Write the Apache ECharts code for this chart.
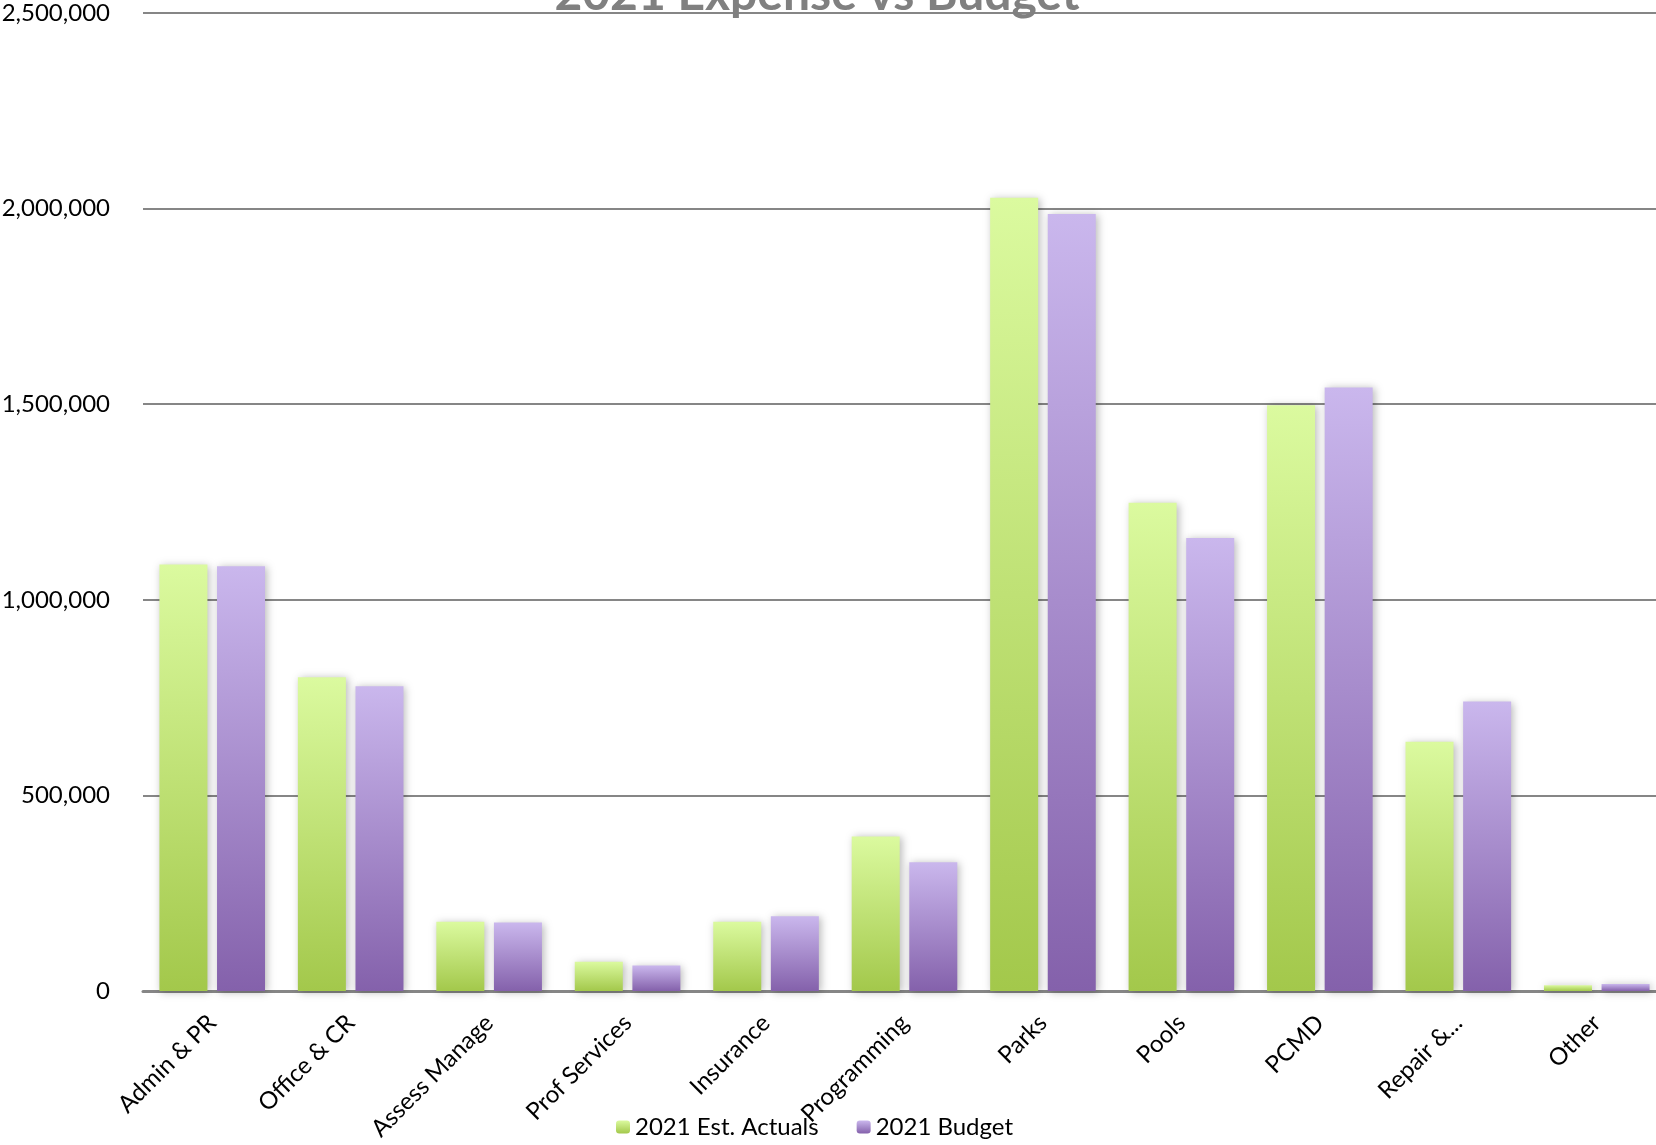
<!DOCTYPE html>
<html>
<head>
<meta charset="utf-8">
<title>2021 Expense vs Budget</title>
<script src="https://cdn.jsdelivr.net/npm/echarts@6/dist/echarts.min.js"></script>
<style>
  html, body { margin: 0; padding: 0; background: #ffffff; }
  #chart { width: 1656px; height: 1145px; }
</style>
</head>
<body>
<div id="chart"></div>
<script>
// Expense categories along the x axis
const categories = ['Admin & PR', 'Office & CR', 'Assess Manage', 'Prof Services', 'Insurance',
  'Programming', 'Parks', 'Pools', 'PCMD', 'Repair &...', 'Other'];

// 2021 estimated actual spending per category
const estActuals = [1090000, 802000, 177000, 75000, 177000, 395000, 2028000, 1248000, 1497000, 637000, 15000];

// 2021 budgeted amounts per category
const budget = [1086000, 779000, 175000, 65000, 191000, 329000, 1986000, 1158000, 1543000, 740000, 18000];

// Value axis ticks
const yTicks = [0, 500000, 1000000, 1500000, 2000000, 2500000];

const FONT = 'Lato, "Noto Sans", sans-serif';

function vGradient(top, bottom) {
  return new echarts.graphic.LinearGradient(0, 0, 0, 1, [
    { offset: 0, color: top },
    { offset: 1, color: bottom }
  ]);
}

const chart = echarts.init(document.getElementById('chart'), null, { renderer: 'canvas' });

chart.setOption({
  backgroundColor: '#ffffff',
  animation: false,
  title: {
    text: '2021 Expense vs Budget',
    left: 812,
    textAlign: 'center',
    top: -34,
    textStyle: {
      fontFamily: FONT,
      fontSize: 48,
      fontWeight: 'bold',
      color: '#808080'
    }
  },
  legend: {
    left: 611,
    top: 1110,
    itemWidth: 14,
    itemHeight: 13,
    itemGap: 38,
    textStyle: { fontFamily: FONT, fontSize: 24, color: '#000000' },
    data: ['2021 Est. Actuals', '2021 Budget']
  },
  // plot area runs slightly past the right edge of the canvas
  grid: {
    left: 143, top: 13, width: 1523, height: 978,
    containLabel: false,
    outerBoundsMode: 'none'
  },
  xAxis: {
    type: 'category',
    data: categories,
    axisTick: { show: false },
    axisLine: { lineStyle: { color: '#868686', width: 3 } },
    axisLabel: {
      interval: 0,
      rotate: 45,
      margin: 28,
      fontFamily: FONT,
      fontSize: 24,
      color: '#000000'
    }
  },
  yAxis: {
    type: 'value',
    min: yTicks[0],
    max: yTicks[yTicks.length - 1],
    interval: yTicks[1] - yTicks[0],
    axisLine: { show: false },
    axisTick: { show: false },
    splitLine: { lineStyle: { color: '#868686', width: 2 } },
    axisLabel: {
      margin: 33,
      fontFamily: FONT,
      fontSize: 24,
      color: '#000000',
      formatter: v => v.toLocaleString('en-US')
    }
  },
  series: [
    {
      name: '2021 Est. Actuals',
      type: 'bar',
      data: estActuals,
      barWidth: 48,
      barGap: '20%',
      itemStyle: {
        color: vGradient('#dbfa9f', '#a3c84b'),
        shadowColor: 'rgba(0,0,0,0.28)',
        shadowBlur: 8,
        shadowOffsetX: 2,
        shadowOffsetY: 1
      }
    },
    {
      name: '2021 Budget',
      type: 'bar',
      data: budget,
      barWidth: 48,
      barGap: '20%',
      itemStyle: {
        color: vGradient('#cab7ed', '#8461ab'),
        shadowColor: 'rgba(0,0,0,0.28)',
        shadowBlur: 8,
        shadowOffsetX: 2,
        shadowOffsetY: 1
      }
    }
  ]
});
</script>
</body>
</html>
